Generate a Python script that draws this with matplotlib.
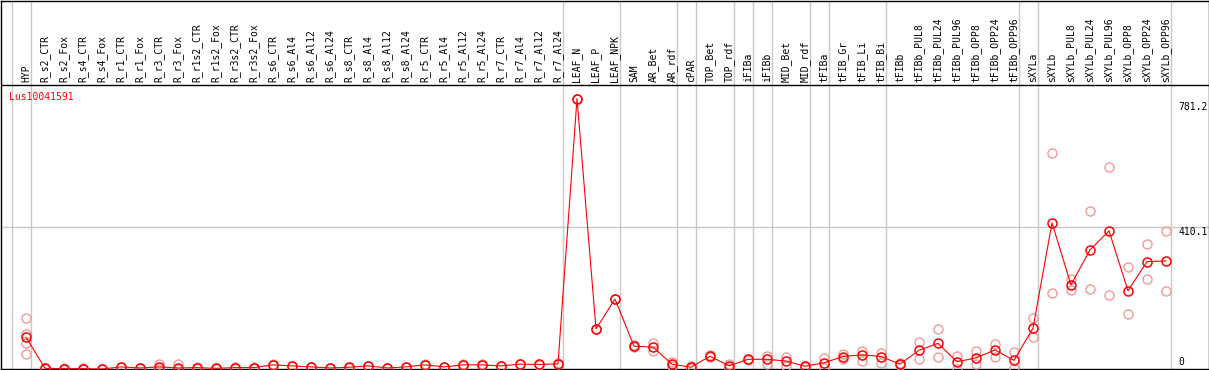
import matplotlib
matplotlib.use("Agg")
from matplotlib import pyplot as plt

gene = "Lus10041591"

samples = ["HYP",
           "R_s2_CTR", "R_s2_Fox", "R_s4_CTR", "R_s4_Fox", "R_r1_CTR", "R_r1_Fox",
           "R_r3_CTR", "R_r3_Fox", "R_r1s2_CTR", "R_r1s2_Fox", "R_r3s2_CTR", "R_r3s2_Fox",
           "R_s6_CTR", "R_s6_Al4", "R_s6_Al12", "R_s6_Al24",
           "R_s8_CTR", "R_s8_Al4", "R_s8_Al12", "R_s8_Al24",
           "R_r5_CTR", "R_r5_Al4", "R_r5_Al12", "R_r5_Al24",
           "R_r7_CTR", "R_r7_Al4", "R_r7_Al12", "R_r7_Al24",
           "LEAF_N", "LEAF_P", "LEAF_NPK", "SAM", "AR_Bet", "AR_rdf", "cPAR",
           "TOP_Bet", "TOP_rdf", "iFIBa", "iFIBb", "MID_Bet", "MID_rdf",
           "tFIBa", "tFIB_Gr", "tFIB_Li", "tFIB_Bi",
           "tFIBb", "tFIBb_PUL8", "tFIBb_PUL24", "tFIBb_PUL96",
           "tFIBb_OPP8", "tFIBb_OPP24", "tFIBb_OPP96",
           "sXYLa", "sXYLb", "sXYLb_PUL8", "sXYLb_PUL24", "sXYLb_PUL96",
           "sXYLb_OPP8", "sXYLb_OPP24", "sXYLb_OPP96"]

# sample groups, separated by grey lines
group_sizes = [1, 28, 3, 3, 1, 2, 1, 1, 2, 1, 3, 7, 1, 7]

means = [92,
         2, 1, 1, 0, 6, 3, 6, 3, 4, 2, 4, 4,
         12, 9, 6, 3, 5, 9, 3, 6, 12, 6, 12, 12, 9, 14, 13, 15,
         781.2, 116, 202, 66, 63, 14, 5, 37, 9, 28, 28, 23, 8,
         18, 36, 41, 36,
         14, 54, 74, 21, 32, 55, 25,
         118, 422, 243, 344, 399, 226, 310, 312]

rep_hi = [147,
          3, 3, 2, 0, 7, 4, 13, 13, 5, 3, 5, 5,
          13, 10, 7, 4, 6, 10, 4, 7, 13, 7, 13, 13, 10, 15, 14, 16,
          781.2, 116, 202, 68, 74, 20, 8, 40, 14, 30, 38, 36, 10,
          33, 44, 51, 47,
          16, 78, 115, 38, 52, 73, 49,
          146, 625, 259, 457, 583, 295, 361, 399]

rep_lo = [43,
          1, 0, 0, 0, 5, 2, 0, 0, 3, 1, 3, 3,
          11, 8, 5, 2, 4, 8, 2, 5, 11, 5, 11, 11, 8, 13, 12, 14,
          781.2, 116, 202, 64, 52, 8, 2, 34, 4, 26, 15, 10, 6,
          2, 28, 24, 16,
          12, 28, 34, 0, 14, 34, 4,
          92, 219, 228, 232, 214, 159, 261, 225]

hyp_extra = [102, 76]

grid_value = 410.1
max_value = max(means)

red = "#ff0000"
pink = "#f09a9a"
grey = "#c8c8c8"
font = dict(family="DejaVu Sans Mono", size=7)

W, H = 1209, 370
fig = plt.figure(figsize=(W / 100, H / 100), dpi=100)
# plot area: 0 at pixel 369, 2*grid_value at pixel 85 (header separator)
ax = fig.add_axes([0.5 / W, 1 / H, 1208 / W, 368.5 / H])
top = 2 * grid_value * 368.5 / 284
ax.set_ylim(0, top)
# sample i sits at pixel 26 + 19*i
ax.set_xlim((0.5 - 26) / 19, (1208.5 - 26) / 19)
ax.set_xticks([])
ax.set_yticks([])
for s in ax.spines.values():
    s.set_color("black")
    s.set_linewidth(1)

x = list(range(len(samples)))

# group separators
start = -1
for n in [0] + group_sizes:
    start += n
    ax.axvline(start + 0.25, color=grey, lw=1, zorder=1)

ax.axhline(grid_value, color=grey, lw=1, zorder=1)
ax.axhline(2 * grid_value, color="black", lw=1, zorder=2)

# replicates
ms = 6.5
ax.plot(x, rep_hi, "o", ms=ms, mfc="none", mec=pink, mew=1, zorder=3)
ax.plot(x, rep_lo, "o", ms=ms, mfc="none", mec=pink, mew=1, zorder=3)
ax.plot([0] * len(hyp_extra), hyp_extra, "o", ms=ms, mfc="none", mec=pink, mew=1, zorder=3)

# mean profile
ax.plot(x, means, "-", color=red, lw=0.8, zorder=4)
ax.plot(x, means, "o", ms=ms, mfc="none", mec=red, mew=1.1, zorder=5)

# sample labels in the header
for i, name in enumerate(samples):
    ax.annotate(name, xy=(i, 2 * grid_value), xytext=(0, 3), textcoords="offset pixels",
                rotation=90, ha="center", va="bottom", color="black", **font)

ax.annotate(gene, xy=(0, 2 * grid_value), xycoords=ax.get_yaxis_transform(),
            xytext=(8, -12), textcoords="offset pixels",
            ha="left", va="center", color=red, **font)

# value labels on the right
yt = ax.get_yaxis_transform()
for val, txt, dy in [(max_value, "781.2", -8.5), (grid_value, "410.1", -5), (0, "0", 7)]:
    ax.annotate(txt, xy=(1, val), xycoords=yt, xytext=(-30, dy), textcoords="offset pixels",
                ha="left", va="center", color="black", annotation_clip=False, **font)

fig.savefig("out.png", dpi=100)
